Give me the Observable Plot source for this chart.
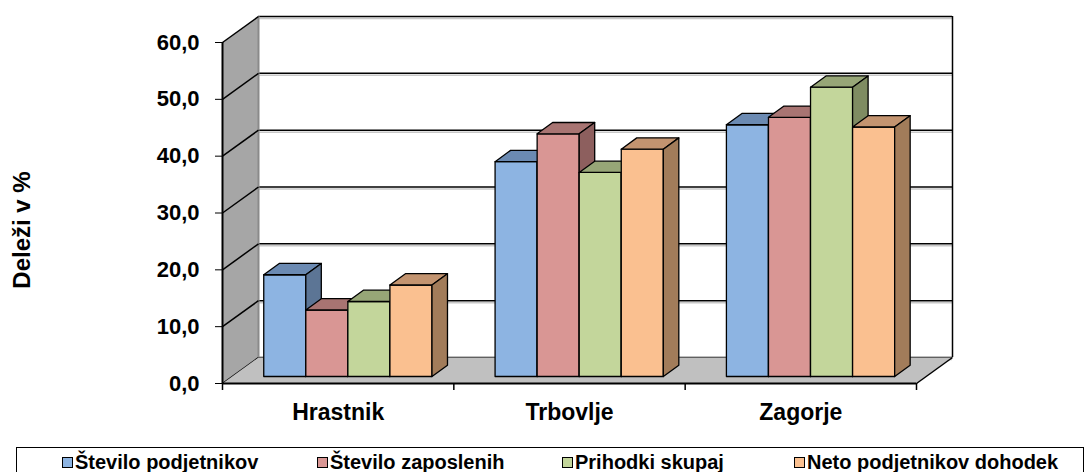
<!DOCTYPE html>
<html>
<head>
<meta charset="utf-8">
<script src="https://cdn.jsdelivr.net/npm/d3@7"></script>
<script src="https://cdn.jsdelivr.net/npm/@observablehq/plot@0.6"></script>
<style>
  html, body { margin: 0; padding: 0; background: #fff; }
  #wrap { position: relative; width: 1088px; height: 472px; overflow: hidden; font-family: "Liberation Sans", Arial, sans-serif; }
  #chart { position: absolute; left: 0; top: 0; }
  #legend { position: absolute; left: 16px; top: 447px; width: 1068px; height: 40px; border: 1.5px solid #000; box-sizing: border-box; }
  .item { position: absolute; top: 3px; font-weight: bold; font-size: 20px; white-space: nowrap; display: flex; align-items: center; }
  .sw { display: inline-block; width: 9px; height: 9px; border: 1.5px solid #000; margin-right: 2px; }
</style>
</head>
<body>
<div id="wrap">
  <div id="chart"></div>
  <div id="legend"></div>
</div>
<script>
// ---- data ----
const categories = ["Hrastnik", "Trbovlje", "Zagorje"];
const seriesNames = ["Število podjetnikov", "Število zaposlenih", "Prihodki skupaj", "Neto podjetnikov dohodek"];
const steviloPodjetnikov = [17.9, 37.8, 44.3];
const steviloZaposlenih = [11.7, 42.7, 45.6];
const prihodkiSkupaj = [13.2, 35.9, 50.9];
const netoDohodek = [16.1, 40.0, 43.9];
const yTicks = [0, 10, 20, 30, 40, 50, 60];
const yTitle = "Deleži v %";

const seriesValues = [steviloPodjetnikov, steviloZaposlenih, prihodkiSkupaj, netoDohodek];
const frontColors = ["#8DB4E2", "#D99694", "#C3D69B", "#FAC090"];
const topColors = ["#6B8AB2", "#A87472", "#97A677", "#C39470"];
const sideColors = ["#5C7595", "#8D5F5E", "#7F8C62", "#A27C5A"];

// ---- layout ----
const W = 1088, H = 447;
const mL = 222, mR = 172, mT = 42, mB = 64;
const nCat = categories.length;
const yMax = 60;
const pxX = (W - mL - mR) / nCat;
const pxY = (H - mT - mB) / yMax;
const ux = px => px / pxX;
const uy = px => px / pxY;

// depth offsets (px): back wall, bar front plane, bar back plane
const WALL = {dx: 36, dy: 26};
const BF = {dx: 9.7, dy: 7};
const BB = {dx: 25.2, dy: 18.3};
const barW = 1 / 5.5;

function poly(pts, fill, stroke, sw) {
  const closed = pts.concat([pts[0]]).map(([x, y]) => ({x, y}));
  return Plot.line(closed, {x: "x", y: "y", fill, stroke: stroke || "none", strokeWidth: sw || 1, strokeLinejoin: "round"});
}

const marks = [];
// back wall gridlines (with light shadow)
marks.push(Plot.ruleY(yTicks, {x1: 0, x2: nCat, dx: WALL.dx, dy: -WALL.dy + 2, stroke: "#c8c8c8", strokeWidth: 1.5}));
marks.push(Plot.ruleY(yTicks, {x1: 0, x2: nCat, dx: WALL.dx, dy: -WALL.dy, stroke: "#000", strokeWidth: 1.5}));
marks.push(Plot.ruleX([nCat], {y1: 0, y2: yMax, dx: WALL.dx, dy: -WALL.dy, stroke: "#000", strokeWidth: 1.5}));
// left wall
const wx = ux(WALL.dx), wy = uy(WALL.dy);
marks.push(poly([[0, 0], [wx, wy], [wx, yMax + wy], [0, yMax]], "#A6A6A6"));
marks.push(Plot.ruleX([0], {y1: 0, y2: yMax, dx: WALL.dx, dy: -WALL.dy, stroke: "#8a8a8a", strokeWidth: 2}));
marks.push(Plot.link(yTicks, {x1: 0, y1: d => d, x2: wx, y2: d => d + wy, stroke: "#000", strokeWidth: 1.5}));
// floor
marks.push(poly([[0, 0], [nCat, 0], [nCat + wx, wy], [wx, wy]], "#C0C0C0"));
marks.push(Plot.link([nCat], {x1: d => d, y1: 0, x2: d => d + wx, y2: wy, stroke: "#000", strokeWidth: 1.5}));

// bars
const fx = ux(BF.dx), fy = uy(BF.dy), bx = ux(BB.dx), by = uy(BB.dy);
categories.forEach((c, ci) => {
  seriesValues.forEach((vals, si) => {
    const v = vals[ci];
    const l = ci + barW * (0.75 + si);
    const r = l + barW;
    marks.push(poly([[l + fx, fy], [r + fx, fy], [r + fx, v + fy], [l + fx, v + fy]], frontColors[si], "#000", 1.3));
    marks.push(poly([[l + fx, v + fy], [r + fx, v + fy], [r + bx, v + by], [l + bx, v + by]], topColors[si], "#000", 1.3));
    marks.push(poly([[r + fx, fy], [r + bx, by], [r + bx, v + by], [r + fx, v + fy]], sideColors[si], "#000", 1.3));
  });
});

// front axes
marks.push(Plot.ruleY([0], {x1: 0, x2: nCat, stroke: "#000", strokeWidth: 2}));
marks.push(Plot.ruleX([0], {y1: 0, y2: yMax, stroke: "#000", strokeWidth: 2}));
marks.push(Plot.ruleX(d3.range(nCat + 1), {y1: 0, y2: -uy(7), stroke: "#000", strokeWidth: 1.5}));
// category labels
marks.push(Plot.text(categories, {x: (d, i) => i + 0.5, y: 0, dy: 29, fontSize: 23, fontWeight: "bold", fill: "#000"}));
// y title
marks.push(Plot.text([yTitle], {frameAnchor: "left", textAnchor: "middle", lineAnchor: "middle", dx: -200, dy: 17, rotate: -90, fontSize: 24, fontWeight: "bold", fill: "#000"}));

const chart = Plot.plot({
  width: W, height: H,
  marginLeft: mL, marginRight: mR, marginTop: mT, marginBottom: mB,
  style: {fontFamily: "Liberation Sans, Arial, sans-serif", fontSize: "22px", fontWeight: "bold", color: "#000", background: "transparent", overflow: "visible"},
  x: {domain: [0, nCat], axis: null},
  y: {domain: [0, yMax], ticks: yTicks.length - 1, tickSize: 7, tickPadding: 16, tickFormat: d => d.toFixed(1).replace(".", ","), label: null},
  marks
});
document.getElementById("chart").appendChild(chart);

// legend
const legendLefts = [45, 300, 545, 777];
const legend = document.getElementById("legend");
seriesNames.forEach((name, i) => {
  const it = document.createElement("div");
  it.className = "item";
  it.style.left = legendLefts[i] + "px";
  const sw = document.createElement("span");
  sw.className = "sw";
  sw.style.background = frontColors[i];
  it.appendChild(sw);
  it.appendChild(document.createTextNode(name));
  legend.appendChild(it);
});
</script>
</body>
</html>
